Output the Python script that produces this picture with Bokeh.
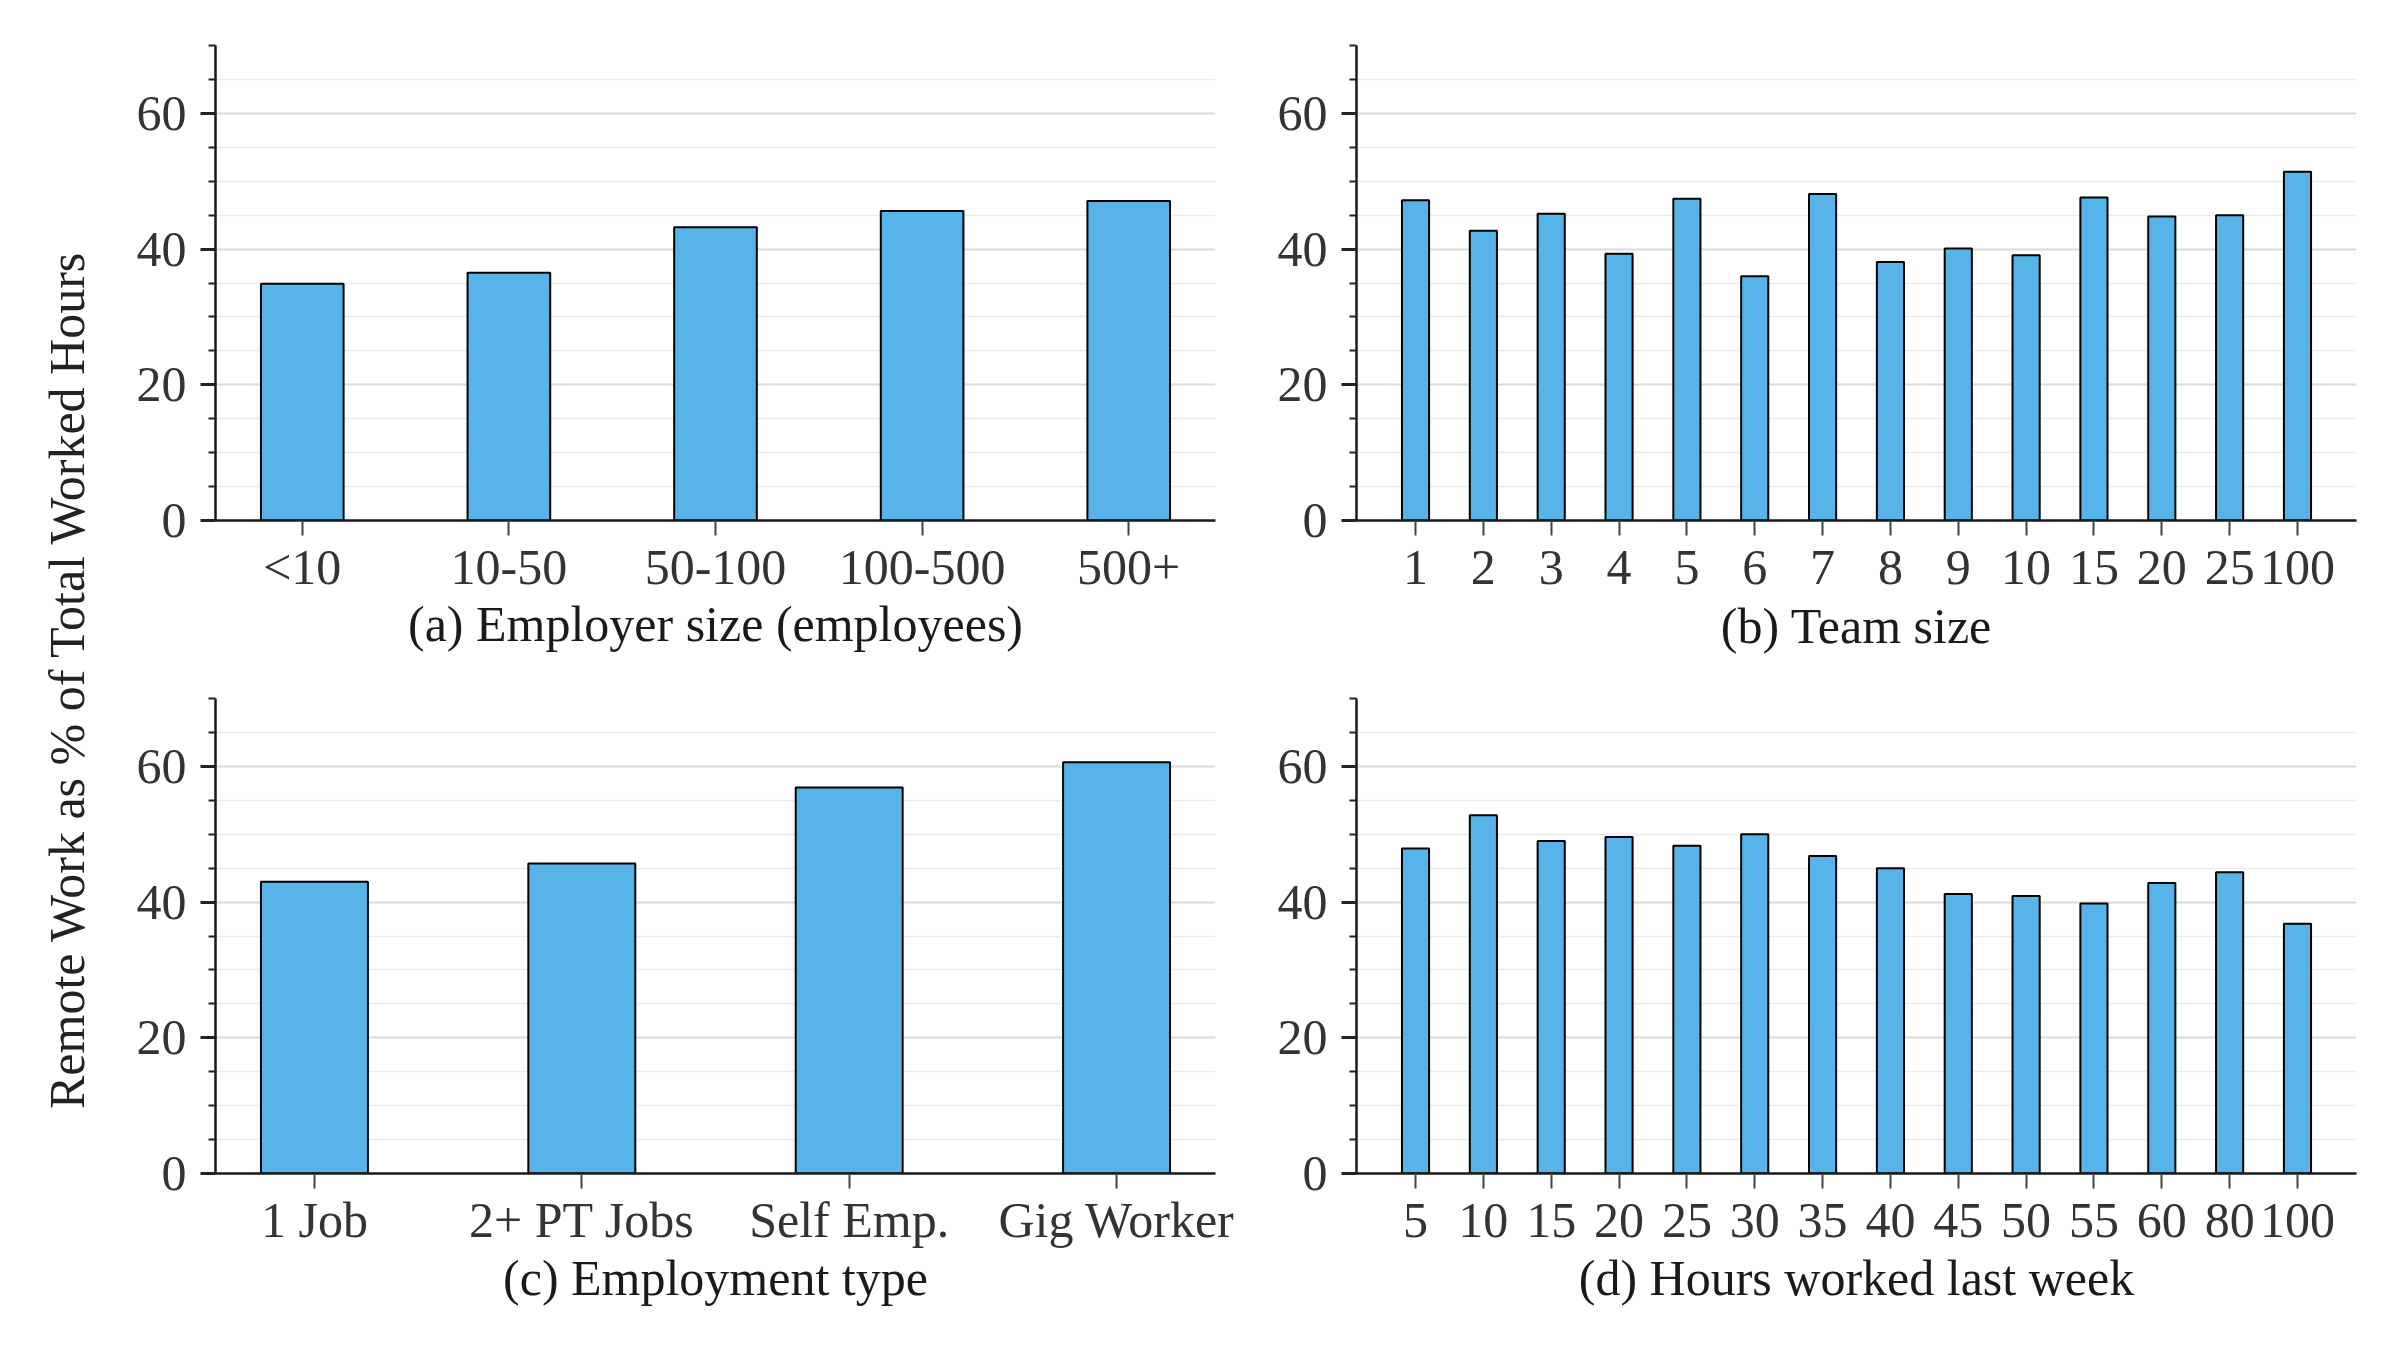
from math import pi
from bokeh.plotting import figure
from bokeh.models import Range1d, FixedTicker, Label
from bokeh.layouts import row, column
from bokeh.embed import file_html
from bokeh.resources import INLINE

# ---- data ----
employer_size = ["<10", "10-50", "50-100", "100-500", "500+"]
employer_vals = [34.9, 36.5, 43.2, 45.6, 47.1]

team_size = ["1", "2", "3", "4", "5", "6", "7", "8", "9", "10", "15", "20", "25", "100"]
team_vals = [47.2, 42.7, 45.2, 39.3, 47.4, 36.0, 48.1, 38.1, 40.1, 39.1, 47.6, 44.8, 45.0, 51.4]

emp_type = ["1 Job", "2+ PT Jobs", "Self Emp.", "Gig Worker"]
emp_type_vals = [43.0, 45.7, 56.9, 60.6]

hours = ["5", "10", "15", "20", "25", "30", "35", "40", "45", "50", "55", "60", "80", "100"]
hours_vals = [47.9, 52.8, 49.0, 49.6, 48.3, 50.0, 46.8, 45.0, 41.2, 40.9, 39.8, 42.8, 44.4, 36.8]

titles = ["(a) Employer size (employees)", "(b) Team size",
          "(c) Employment type", "(d) Hours worked last week"]
ylabel = "Remote Work as % of Total Worked Hours"

BAR = "#56B4E9"
FONT = "Liberation Serif"
FS = "50px"
BAR_W = 0.4


def panel(cats, vals, title, width, height, bl, br, bt, bb, lab_so, tit_so):
    n = len(cats)
    pad = BAR_W / 2 + 0.05 * (n - 1 + BAR_W)
    p = figure(width=width, height=height, x_range=Range1d(-pad, n - 1 + pad),
               y_range=Range1d(0, 70), toolbar_location=None, output_backend="svg",
               min_border_left=bl, min_border_right=br, min_border_top=bt,
               min_border_bottom=bb)
    p.outline_line_color = None
    p.background_fill_color = "white"
    p.border_fill_color = "white"
    idx = list(range(n))
    p.vbar(x=idx, top=vals, width=BAR_W, fill_color=BAR, line_color="black",
           line_width=2)

    yt = FixedTicker(ticks=[0, 20, 40, 60], minor_ticks=list(range(0, 75, 5)))
    p.yaxis.ticker = yt
    p.ygrid.ticker = yt
    p.ygrid.grid_line_color = "#dcdcdc"
    p.ygrid.grid_line_width = 2
    p.ygrid.minor_grid_line_color = "#ececec"
    p.ygrid.minor_grid_line_width = 1.5
    p.xgrid.grid_line_color = None

    for ax in (p.xaxis, p.yaxis):
        ax.axis_line_color = "#1a1a1a"
        ax.axis_line_width = 2.5
        ax.major_label_text_font = FONT
        ax.major_label_text_font_size = FS
        ax.major_label_text_color = "#333333"
        ax.axis_label_text_font = FONT
        ax.axis_label_text_font_size = FS
        ax.axis_label_text_font_style = "normal"
        ax.axis_label_text_color = "#1a1a1a"
        ax.major_tick_in = 0
        ax.major_tick_out = 15
        ax.minor_tick_in = 0

    p.yaxis.major_tick_line_color = "#222222"
    p.yaxis.major_tick_line_width = 3
    p.yaxis.minor_tick_out = 7
    p.yaxis.minor_tick_line_color = "#222222"
    p.yaxis.minor_tick_line_width = 2
    p.yaxis.major_label_standoff = 14

    p.xaxis.ticker = FixedTicker(ticks=idx, minor_ticks=[])
    p.xaxis.major_label_overrides = {i: c for i, c in enumerate(cats)}
    p.xaxis.major_tick_line_color = "#444444"
    p.xaxis.major_tick_line_width = 2
    p.xaxis.minor_tick_line_color = None
    p.xaxis.major_label_standoff = lab_so
    p.xaxis.axis_label = title
    p.xaxis.axis_label_standoff = tit_so
    return p


pa = panel(employer_size, employer_vals, titles[0], 1141, 670, 97, 44, 45, 150, 3, -2)
pb = panel(team_size, team_vals, titles[1], 1121, 670, 97, 24, 45, 150, 15, 11)
pc = panel(emp_type, emp_type_vals, titles[2], 1141, 653, 97, 44, 28, 150, 3, -1)
pd_ = panel(hours, hours_vals, titles[3], 1121, 653, 97, 24, 28, 150, 15, 10)

YW, YH = 118, 1323
yfig = figure(width=YW, height=YH, x_range=Range1d(0, YW), y_range=Range1d(0, YH),
              toolbar_location=None, output_backend="svg", min_border=0)
yfig.axis.visible = False
yfig.grid.visible = False
yfig.outline_line_color = None
yfig.add_layout(Label(x=66, y=YH - 679, text=ylabel, angle=pi / 2,
                      text_align="center", text_baseline="middle",
                      text_font=FONT, text_font_size=FS, text_color="#222222"))

layout = row(yfig, column(row(pa, pb), row(pc, pd_)))

open("out.html", "w").write(file_html(layout, INLINE))
